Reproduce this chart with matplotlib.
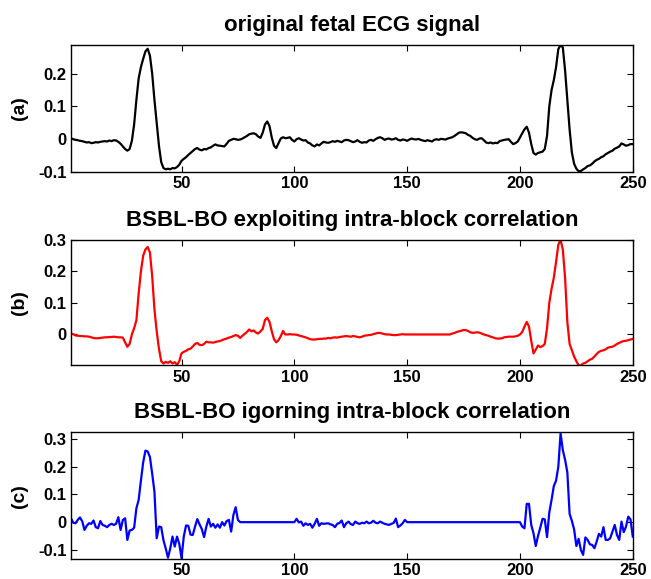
import matplotlib
matplotlib.use('Agg')
import matplotlib.pyplot as plt
import numpy as np

# sample index 1..250
n_samples = list(range(1, 251))

# (a) original fetal ECG signal
original = [
    0.003, 0.000, -0.002, -0.003, -0.005, -0.006, -0.008, -0.010, -0.009, -0.012,
    -0.011, -0.009, -0.010, -0.008, -0.007, -0.006, -0.007, -0.004, -0.006, -0.003,
    -0.004, -0.008, -0.014, -0.022, -0.030, -0.035, -0.030, -0.005, 0.045, 0.120,
    0.185, 0.220, 0.245, 0.268, 0.276, 0.255, 0.200, 0.120, 0.050, -0.020,
    -0.070, -0.088, -0.092, -0.090, -0.092, -0.088, -0.089, -0.085, -0.078, -0.066,
    -0.060, -0.055, -0.048, -0.042, -0.036, -0.030, -0.027, -0.032, -0.034, -0.030,
    -0.031, -0.027, -0.025, -0.020, -0.016, -0.019, -0.020, -0.021, -0.022, -0.014,
    -0.005, -0.002, 0.001, 0.000, -0.002, -0.001, 0.002, 0.006, 0.010, 0.015,
    0.017, 0.018, 0.015, 0.008, 0.004, 0.020, 0.045, 0.054, 0.040, 0.005,
    -0.020, -0.027, -0.012, 0.002, 0.006, 0.003, 0.004, 0.006, -0.002, -0.007,
    0.000, 0.003, -0.001, -0.004, -0.003, -0.010, -0.013, -0.019, -0.022, -0.016,
    -0.019, -0.013, -0.008, -0.010, -0.011, -0.009, -0.006, -0.008, -0.005, -0.007,
    -0.009, -0.004, -0.002, -0.003, -0.006, -0.009, -0.007, -0.003, -0.008, -0.011,
    -0.009, -0.010, -0.004, -0.002, -0.005, 0.000, 0.004, 0.006, 0.003, -0.002,
    0.001, 0.002, -0.001, 0.000, 0.003, -0.002, -0.004, -0.001, -0.002, -0.005,
    -0.001, 0.002, 0.000, -0.001, 0.001, -0.002, -0.004, -0.006, -0.003, -0.005,
    -0.007, -0.002, 0.000, -0.002, 0.001, 0.000, -0.001, 0.002, 0.004, 0.006,
    0.010, 0.015, 0.020, 0.021, 0.020, 0.018, 0.013, 0.010, 0.004, 0.000,
    -0.002, 0.002, 0.003, -0.003, -0.010, -0.012, -0.010, -0.013, -0.011, -0.012,
    -0.006, -0.004, -0.002, -0.001, 0.000, -0.008, -0.015, -0.012, -0.007, 0.005,
    0.018, 0.030, 0.038, 0.020, -0.015, -0.042, -0.047, -0.042, -0.040, -0.038,
    -0.030, 0.010, 0.100, 0.150, 0.180, 0.220, 0.275, 0.287, 0.280, 0.210,
    0.120, 0.030, -0.040, -0.075, -0.090, -0.098, -0.097, -0.092, -0.088, -0.082,
    -0.080, -0.075, -0.068, -0.063, -0.060, -0.055, -0.052, -0.046, -0.042, -0.038,
    -0.035, -0.029, -0.026, -0.022, -0.013, -0.016, -0.020, -0.018, -0.015, -0.015,
]

# (b) BSBL-BO exploiting intra-block correlation
bsbl_corr = [
    0.003, 0.001, -0.003, -0.004, -0.005, -0.005, -0.006, -0.006, -0.007, -0.009,
    -0.011, -0.012, -0.012, -0.011, -0.010, -0.009, -0.009, -0.008, -0.008, -0.007,
    -0.008, -0.009, -0.009, -0.010, -0.025, -0.039, -0.030, 0.000, 0.020, 0.045,
    0.130, 0.200, 0.250, 0.270, 0.278, 0.260, 0.185, 0.080, 0.010, -0.045,
    -0.085, -0.092, -0.087, -0.090, -0.085, -0.092, -0.088, -0.096, -0.085, -0.060,
    -0.055, -0.052, -0.047, -0.045, -0.038, -0.030, -0.027, -0.033, -0.034, -0.030,
    -0.023, -0.025, -0.025, -0.026, -0.024, -0.022, -0.021, -0.018, -0.015, -0.013,
    -0.010, -0.008, -0.005, -0.002, -0.004, -0.011, -0.004, 0.002, 0.008, 0.016,
    0.010, 0.013, 0.006, 0.003, 0.010, 0.018, 0.046, 0.053, 0.040, 0.010,
    -0.015, -0.025, -0.018, -0.005, 0.011, 0.000, 0.000, 0.001, 0.000, 0.000,
    -0.001, -0.003, -0.005, -0.007, -0.009, -0.012, -0.015, -0.016, -0.016, -0.015,
    -0.014, -0.014, -0.013, -0.013, -0.011, -0.012, -0.010, -0.009, -0.010, -0.008,
    -0.007, -0.006, -0.005, -0.006, -0.007, -0.005, -0.006, -0.008, -0.009, -0.007,
    -0.004, -0.003, -0.002, -0.001, 0.001, 0.003, 0.005, 0.005, 0.003, 0.001,
    0.000, 0.000, -0.001, -0.002, -0.002, -0.001, 0.000, 0.001, 0.000, 0.000,
    0.000, 0.000, 0.000, 0.000, 0.000, 0.000, 0.000, 0.000, 0.000, 0.000,
    0.000, 0.000, 0.000, 0.000, 0.000, 0.000, 0.000, 0.000, 0.000, 0.003,
    0.005, 0.008, 0.010, 0.012, 0.014, 0.014, 0.011, 0.007, 0.005, 0.006,
    0.007, 0.006, 0.003, 0.000, -0.002, -0.004, -0.007, -0.009, -0.012, -0.013,
    -0.013, -0.012, -0.009, -0.008, -0.007, -0.007, -0.007, -0.006, -0.004, 0.000,
    0.008, 0.025, 0.040, 0.025, -0.020, -0.060, -0.048, -0.035, -0.040, -0.037,
    -0.030, 0.020, 0.100, 0.145, 0.180, 0.230, 0.285, 0.300, 0.270, 0.180,
    0.040, -0.030, -0.050, -0.070, -0.085, -0.098, -0.098, -0.092, -0.090, -0.085,
    -0.080, -0.077, -0.070, -0.062, -0.055, -0.052, -0.050, -0.047, -0.042, -0.040,
    -0.039, -0.035, -0.030, -0.027, -0.023, -0.021, -0.020, -0.018, -0.016, -0.014,
]

# (c) BSBL-BO ignoring intra-block correlation
bsbl_nocorr = [
    0.014, -0.002, -0.004, 0.008, 0.017, 0.003, -0.028, -0.013, -0.004, -0.006,
    0.006, -0.018, -0.022, 0.004, -0.010, -0.013, -0.018, -0.010, -0.006, -0.010,
    -0.006, 0.018, -0.028, 0.008, 0.014, -0.064, -0.030, -0.028, -0.020, 0.050,
    0.080, 0.150, 0.215, 0.258, 0.255, 0.235, 0.175, 0.110, -0.058, -0.016,
    -0.018, -0.065, -0.095, -0.128, -0.095, -0.052, -0.088, -0.052, -0.078, -0.130,
    -0.052, -0.012, -0.013, -0.045, -0.046, -0.016, 0.011, -0.008, -0.025, -0.054,
    -0.016, 0.012, -0.016, -0.006, -0.020, -0.008, -0.020, 0.000, -0.012, 0.004,
    0.008, -0.034, 0.026, 0.054, 0.008, 0.000, 0.000, 0.000, 0.000, 0.000,
    0.000, 0.000, 0.000, 0.000, 0.000, 0.000, 0.000, 0.000, 0.000, 0.000,
    0.000, 0.000, 0.000, 0.000, 0.000, 0.000, 0.000, 0.000, 0.000, 0.000,
    0.012, -0.001, 0.002, -0.013, -0.004, -0.010, -0.006, -0.020, -0.006, 0.012,
    -0.013, -0.004, -0.006, -0.005, -0.004, -0.008, -0.010, -0.018, -0.006, -0.003,
    0.006, -0.018, -0.004, 0.002, -0.007, -0.010, 0.002, -0.004, -0.006, -0.002,
    -0.004, 0.002, -0.004, -0.002, 0.005, -0.002, -0.004, 0.002, -0.002, -0.006,
    -0.008, -0.010, -0.006, -0.003, 0.013, -0.018, -0.012, -0.004, 0.008, 0.000,
    0.000, 0.000, 0.000, 0.000, 0.000, 0.000, 0.000, 0.000, 0.000, 0.000,
    0.000, 0.000, 0.000, 0.000, 0.000, 0.000, 0.000, 0.000, 0.000, 0.000,
    0.000, 0.000, 0.000, 0.000, 0.000, 0.000, 0.000, 0.000, 0.000, 0.000,
    0.000, 0.000, 0.000, 0.000, 0.000, 0.000, 0.000, 0.000, 0.000, 0.000,
    0.000, 0.000, 0.000, 0.000, 0.000, 0.000, 0.000, 0.000, 0.000, 0.000,
    -0.016, -0.022, 0.066, 0.066, -0.010, -0.040, -0.086, -0.050, -0.020, 0.012,
    0.010, -0.054, 0.035, 0.080, 0.130, 0.150, 0.200, 0.320, 0.260, 0.225,
    0.180, 0.030, 0.005, -0.026, -0.086, -0.060, -0.100, -0.118, -0.055, -0.064,
    -0.080, -0.082, -0.094, -0.070, -0.042, -0.052, -0.018, -0.064, -0.064, -0.058,
    -0.034, -0.010, -0.046, -0.064, 0.002, -0.036, -0.016, 0.020, 0.010, -0.052,
]

titles = ['original fetal ECG signal',
          'BSBL-BO exploiting intra-block correlation',
          'BSBL-BO igorning intra-block correlation']
panel_labels = ['(a)', '(b)', '(c)']
colors = ['black', 'red', 'blue']
series = [original, bsbl_corr, bsbl_nocorr]
ylims = [(-0.1, 0.287), (-0.098, 0.3), (-0.134, 0.324)]
yticks = [[-0.1, 0, 0.1, 0.2], [0, 0.1, 0.2, 0.3], [-0.1, 0, 0.1, 0.2, 0.3]]
xticks = [50, 100, 150, 200, 250]

plt.rcParams['font.family'] = ['Liberation Sans', 'DejaVu Sans']
plt.rcParams['font.weight'] = 'bold'
plt.rcParams['axes.unicode_minus'] = False

fig = plt.figure(figsize=(6.51, 5.79), dpi=100)
positions = [[0.109, 0.703, 0.863, 0.219],
             [0.109, 0.369, 0.863, 0.2165],
             [0.109, 0.034, 0.863, 0.2193]]

for i in range(3):
    ax = fig.add_axes(positions[i])
    ax.plot(n_samples, series[i], color=colors[i], linewidth=1.6)
    ax.set_xlim(1, 250)
    ax.set_ylim(*ylims[i])
    ax.set_xticks(xticks)
    ax.set_xticklabels([str(t) for t in xticks])
    ax.set_yticks(yticks[i])
    ax.set_yticklabels(['%g' % t for t in yticks[i]])
    ax.tick_params(direction='in', top=True, right=True, length=4, width=0.8,
                   labelsize=12, pad=3)
    for tl in ax.get_xticklabels() + ax.get_yticklabels():
        tl.set_fontweight('bold')
    for sp in ax.spines.values():
        sp.set_linewidth(1.0)
    ax.set_title(titles[i], fontsize=16, fontweight='bold', pad=10)
    ax.set_ylabel(panel_labels[i], fontsize=14, fontweight='bold')
    ax.yaxis.set_label_coords(-0.077, 0.5)

fig.savefig('out.png', dpi=100, facecolor='white')
